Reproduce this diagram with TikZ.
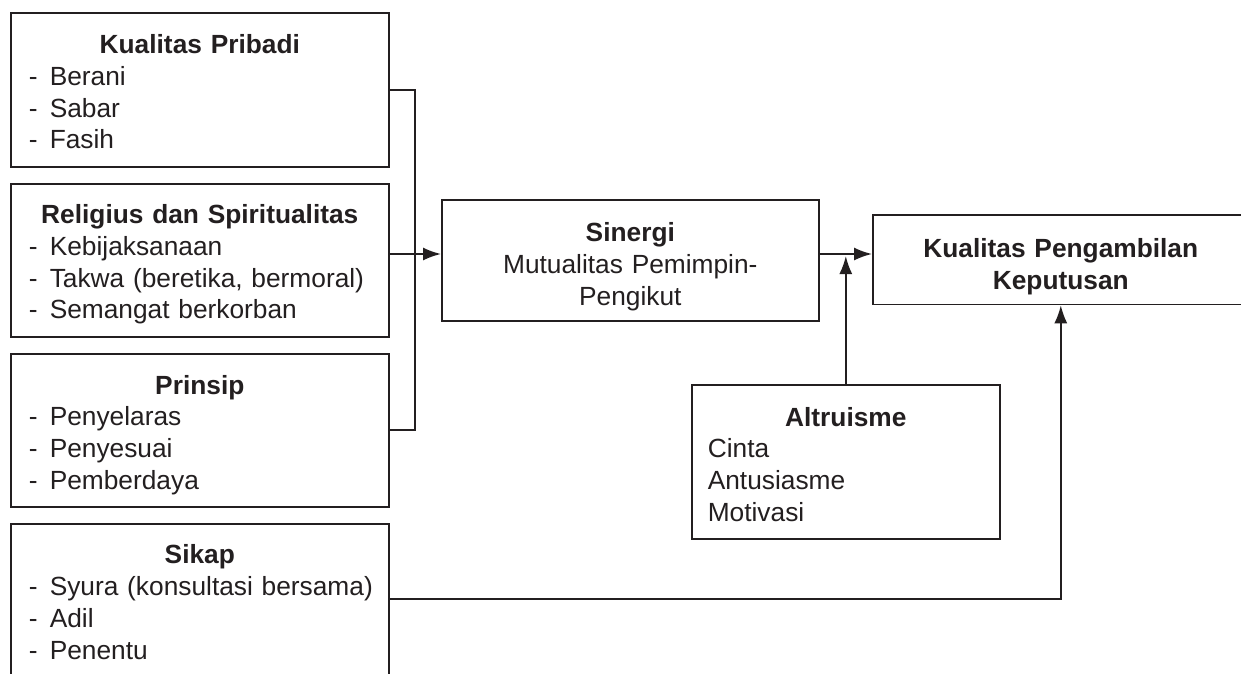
\documentclass[tikz,border=0pt]{standalone}
\usepackage{fontspec}
\setmainfont{Liberation Sans}
\usetikzlibrary{arrows.meta}
\definecolor{ink}{RGB}{35,31,32}
\newcommand\itm[1]{\mbox{\makebox[21pt][l]{-}#1}}
\newcommand\mytitle[2]{\makebox[\linewidth]{\rule{0pt}{#1pt}\bfseries #2}}
\newcommand\mybot[1]{\rule[-#1pt]{0pt}{0pt}}
\tikzset{
  box/.style={draw=ink, line width=1.6pt, inner ysep=0pt, anchor=north west,
    font=\fontsize{26.3}{31.7}\selectfont, text=ink},
  lbox/.style={box, align=left},
  cbox/.style={box, align=center, inner xsep=0pt},
  conn/.style={draw=ink, line width=1.8pt},
  arr/.style={conn, -{Latex[length=18pt,width=13pt]}},
}
\begin{document}
\begin{tikzpicture}[x=1pt,y=-1pt]
\useasboundingbox (0,0) rectangle (1241,673);
\fill[white] (0,0) rectangle (1241,673);
\clip (0,0) rectangle (1241,673);

\node[lbox, inner xsep=18pt, text width=342pt, minimum height=154pt] (b1) at (10,12)
  {\mytitle{40}{Kualitas Pribadi}\\ \itm{Berani}\\ \itm{Sabar}\\ \itm{Fasih}\mybot{17}};
\node[lbox, inner xsep=18pt, text width=342pt, minimum height=153pt] (b2) at (10,183)
  {\mytitle{39}{Religius dan Spiritualitas}\\ \itm{Kebijaksanaan}\\ \itm{Takwa (beretika, bermoral)}\\ \itm{Semangat berkorban}\mybot{17}};
\node[lbox, inner xsep=18pt, text width=342pt, minimum height=153pt] (b3) at (10,353)
  {\mytitle{40}{Prinsip}\\ \itm{Penyelaras}\\ \itm{Penyesuai}\\ \itm{Pemberdaya}\mybot{17}};
\node[lbox, inner xsep=18pt, text width=342pt, minimum height=160pt] (b4) at (10,523)
  {\mytitle{40}{Sikap}\\ \itm{Syura (konsultasi bersama)}\\ \itm{Adil}\\ \itm{Penentu}\mybot{24.6}};

\node[cbox, text width=377pt, minimum height=121pt] (s) at (441,199)
  {\rule{0pt}{42pt}\textbf{Sinergi}\\Mutualitas Pemimpin-\\Pengikut\mybot{16}};
\node[cbox, text width=376pt, minimum height=89pt] (k) at (872,214)
  {\rule{0pt}{43pt}\textbf{Kualitas Pengambilan}\\\textbf{Keputusan}\mybot{15}};
\node[lbox, inner xsep=16pt, text width=276pt, minimum height=154pt] (a) at (691,384)
  {\mytitle{41}{Altruisme}\\ Cinta\\ Antusiasme\\ Motivasi\mybot{17}};

\coordinate (j) at (415,254);
\coordinate (sk) at (0,599);
\draw[conn] (b1.east) -| (j) |- (b3.east);
\draw[arr] (b2.east |- j) -- (s.west |- j);
\draw[arr] (s.east |- j) -- (k.west |- j);
\draw[arr, shorten >=2pt] (a.north) -- (a.north |- j);
\draw[arr] (b4.east |- sk) -| (k.south);
\end{tikzpicture}
\end{document}
